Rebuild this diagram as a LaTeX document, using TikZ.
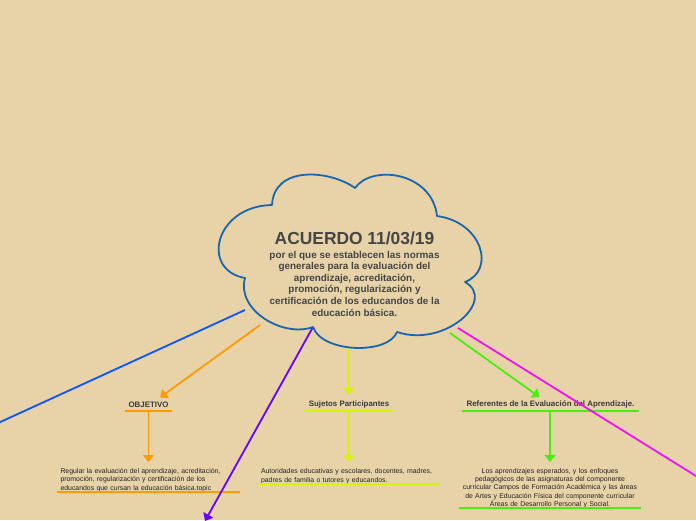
\documentclass[tikz,border=0pt]{standalone}
\usepackage{fontspec}
\setmainfont{Liberation Sans}
\usetikzlibrary{arrows.meta}
\definecolor{bg}{HTML}{E8D3A8}
\definecolor{cloudc}{HTML}{1B65AE}
\definecolor{cblue}{HTML}{0A55FF}
\definecolor{corange}{HTML}{FF9A00}
\definecolor{cpurple}{HTML}{6400FF}
\definecolor{cyellow}{HTML}{D2F50A}
\definecolor{cgreen}{HTML}{48EE12}
\definecolor{cmagenta}{HTML}{EE10EE}
\definecolor{titlec}{HTML}{454545}
\definecolor{labc}{HTML}{3A3A3A}
\definecolor{blkc}{HTML}{222222}
\begin{document}
\begin{tikzpicture}[x=1pt,y=-1pt,
  conn/.style={line width=1.8pt},
  tip/.style={-{Triangle[width=11pt,length=7pt]}},
  uline/.style={line width=1.8pt},
  lab/.style={font=\fontsize{7.9}{9}\selectfont\bfseries, text=labc, inner sep=0pt, minimum height=12pt, anchor=south},
  blk/.style={font=\fontsize{6.9}{8.5}\selectfont, text=blkc, inner xsep=3pt, inner ysep=0pt, anchor=south, text width=176pt}]
\useasboundingbox[fill=bg] (0,0) rectangle (696,520);

% connector end points on the cloud
\coordinate (sBlue) at (245,310);
\coordinate (eBlue) at (-20,431.3);
\coordinate (sOrange) at (260,325);
\coordinate (objin) at (160,397.5);
\coordinate (sPurple) at (313,327);
\coordinate (ePurple) at (205,521);
\coordinate (sYellow) at (349,346);
\coordinate (sGreen) at (450,333);
\coordinate (refin) at (539.5,397);
\coordinate (sMagenta) at (458,328);
\coordinate (eMagenta) at (716,488.4);

% labels
\node[lab, minimum width=47pt] (obj) at (148.5,411) {OBJETIVO};
\node[lab, minimum width=88pt] (suj) at (349,411) {Sujetos Participantes};
\node[lab, minimum width=177pt] (ref) at (550.5,411) {Referentes de la Evaluación del Aprendizaje.};

% text blocks
\node[blk, align=left, minimum height=23pt] (objt) at (148.5,492)
 {Regular la evaluación del aprendizaje, acreditación,\\promoción, regularización y certificación de los\\educandos que cursan la educación básica.topic};
\node[blk, align=left, minimum height=15pt, font=\fontsize{6.9}{9}\selectfont] (sujt) at (349,484)
 {Autoridades educativas y escolares, docentes, madres,\\padres de familia o tutores y educandos.};
\node[blk, align=center, minimum height=39pt, font=\fontsize{6.9}{8.3}\selectfont] (reft) at (550,508)
 {Los aprendizajes esperados, y los enfoques\\pedagógicos de las asignaturas del componente\\curricular Campos de Formación Académica y las áreas\\de Artes y Educación Física del componente curricular\\Áreas de Desarrollo Personal y Social.};

% underlines
\draw[uline, corange] (obj.south west) -- (obj.south east);
\draw[uline, cyellow] (suj.south west) -- (suj.south east);
\draw[uline, cgreen] (ref.south west) -- (ref.south east);
\draw[uline, corange] (objt.south west) -- (objt.south east);
\draw[uline, cyellow] (sujt.south west) -- (sujt.south east);
\draw[uline, cgreen] (reft.south west) -- (reft.south east);

% connectors
\draw[conn, cblue] (sBlue) -- (eBlue);
\draw[conn, corange, tip] (sOrange) -- (objin);
\draw[conn, cpurple, tip] (sPurple) -- (ePurple);
\draw[conn, cyellow, tip] (sYellow) -- ([yshift=4pt]suj.north);
\draw[conn, cgreen, tip] (sGreen) -- (refin);
\draw[conn, cmagenta] (sMagenta) -- (eMagenta);
\draw[conn, corange, tip] (obj.south) -- ([yshift=6pt]objt.north);
\draw[conn, cyellow, tip] (suj.south) -- ([yshift=6pt]sujt.north);
\draw[conn, cgreen, tip] (ref.south -| reft.north) -- ([yshift=6pt]reft.north);

% cloud
\draw[cloudc, line width=1.8pt, fill=bg, line join=round]
 (272,205) .. controls (274,165) and (330,170) .. (355,188)
 .. controls (372,164) and (432,172) .. (437,216)
 .. controls (482,222) and (496,270) .. (465,282)
 .. controls (497,300) and (445,348) .. (397,332)
 .. controls (388,355) and (322,353) .. (313,327)
 .. controls (283,338) and (236,310) .. (245,278)
 .. controls (200,270) and (215,206) .. (272,205) -- cycle;

\node[font=\fontsize{17.4}{20}\selectfont\bfseries, text=titlec, inner sep=0pt] (title) at (354.5,238.5) {ACUERDO 11/03/19};
\node[font=\fontsize{9.9}{11.6}\selectfont\bfseries, text=titlec, inner sep=0pt, align=center] (sub) at (354.5,283.5)
 {por el que se establecen las normas\\generales para la evaluación del\\aprendizaje, acreditación,\\promoción, regularización y\\certificación de los educandos de la\\educación básica.};
\end{tikzpicture}
\end{document}
